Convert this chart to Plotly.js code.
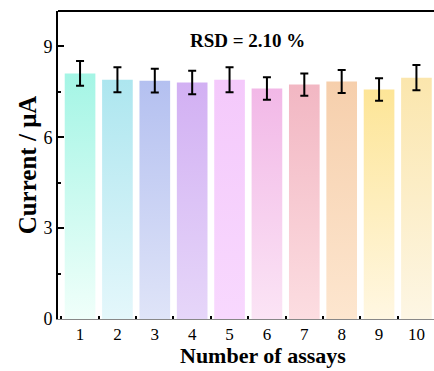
<!DOCTYPE html>
<html>
<head>
<meta charset="utf-8">
<script src="https://cdn.plot.ly/plotly-3.0.1.min.js"></script>
<style>html,body{margin:0;padding:0;background:#fff;overflow:hidden;}#chart{width:434px;height:371px;}</style>
</head>
<body>
<div id="chart"></div>
<script>
var assays = [1, 2, 3, 4, 5, 6, 7, 8, 9, 10];
var currents = [8.11, 7.90, 7.87, 7.81, 7.90, 7.61, 7.74, 7.84, 7.58, 7.97];
var errors = [0.41, 0.41, 0.39, 0.39, 0.41, 0.37, 0.37, 0.38, 0.37, 0.42];
var topColors = ['#a4f5e5', '#ade6ef', '#b4c0f0', '#d2b0f3', '#f4c9fb', '#f2b8e7', '#f2b7c3', '#f6cfac', '#fde597', '#fbe6ad'];
var bottomColors = ['#f0fffa', '#e4f7fb', '#dfe4f8', '#e6d6f9', '#f8d8fe', '#fbe4f5', '#fcdde1', '#fde6cf', '#fff7e2', '#fdf6e4'];
var yTicks = [0, 3, 6, 9];
var rsdLabel = 'RSD = 2.10 %';

var barWidth = 0.82;
var traces = [];
assays.forEach(function (a, i) {
  var x0 = a - barWidth / 2, x1 = a + barWidth / 2, v = currents[i];
  traces.push({
    type: 'scatter', mode: 'lines',
    x: [x0, x0, x1, x1, x0], y: [0, v, v, 0, 0],
    fill: 'toself', line: {width: 0, color: 'rgba(0,0,0,0)'},
    fillgradient: {type: 'vertical', colorscale: [[0, bottomColors[i]], [1, topColors[i]]]},
    hoverinfo: 'skip', showlegend: false
  });
});
traces.push({
  type: 'scatter', mode: 'markers', x: assays, y: currents,
  marker: {size: 1, color: 'rgba(0,0,0,0)'},
  error_y: {type: 'data', array: errors, visible: true, color: '#000', thickness: 2, width: 4},
  hoverinfo: 'skip', showlegend: false
});

var font = 'Liberation Serif';
var layout = {
  width: 434, height: 371,
  margin: {l: 58, r: 0, t: 11, b: 52},
  paper_bgcolor: '#fff', plot_bgcolor: '#fff',
  font: {family: font, color: '#000', size: 16},
  xaxis: {
    range: [0.41, 10.47], tickvals: assays, ticktext: assays.map(String),
    ticks: '', showgrid: false, zeroline: false,
    showline: true, linecolor: '#888', linewidth: 1,
    tickfont: {family: font, size: 17}, ticklabelstandoff: 0,
    minor: {tickvals: [0.5,1.5,2.5,3.5,4.5,5.5,6.5,7.5,8.5,9.5,10.5], ticks: 'inside', ticklen: 3, tickwidth: 2, tickcolor: '#000', showgrid: false}
  },
  yaxis: {
    range: [0, 10.17], tickvals: yTicks, ticks: 'inside', ticklen: 6, tickwidth: 2, tickcolor: '#000',
    showgrid: false, zeroline: false, showline: true, linecolor: '#000', linewidth: 2,
    tickfont: {family: font, size: 18},
    minor: {tickvals: [1.5, 4.5, 7.5], ticks: 'inside', ticklen: 3, tickwidth: 2, tickcolor: '#000', showgrid: false},
    title: {text: '<b>Current / μA</b>', font: {family: font, size: 25}, standoff: 0}
  },
  shapes: [{type: 'line', xref: 'paper', yref: 'paper', x0: 0, x1: 1, y0: 1, y1: 1, line: {color: '#000', width: 2}}],
  annotations: [
    {text: '<b>' + rsdLabel + '</b>', xref: 'paper', yref: 'paper', x: 0.505, y: 0.905, showarrow: false, font: {family: font, size: 19}, xanchor: 'center', yanchor: 'middle'},
    {text: '<b>Number of assays</b>', xref: 'paper', yref: 'paper', x: 0.545, y: -0.165, showarrow: false, font: {family: font, size: 22}, xanchor: 'center', yanchor: 'bottom'}
  ]
};
Plotly.newPlot('chart', traces, layout, {displayModeBar: false, staticPlot: true});
</script>
</body>
</html>
